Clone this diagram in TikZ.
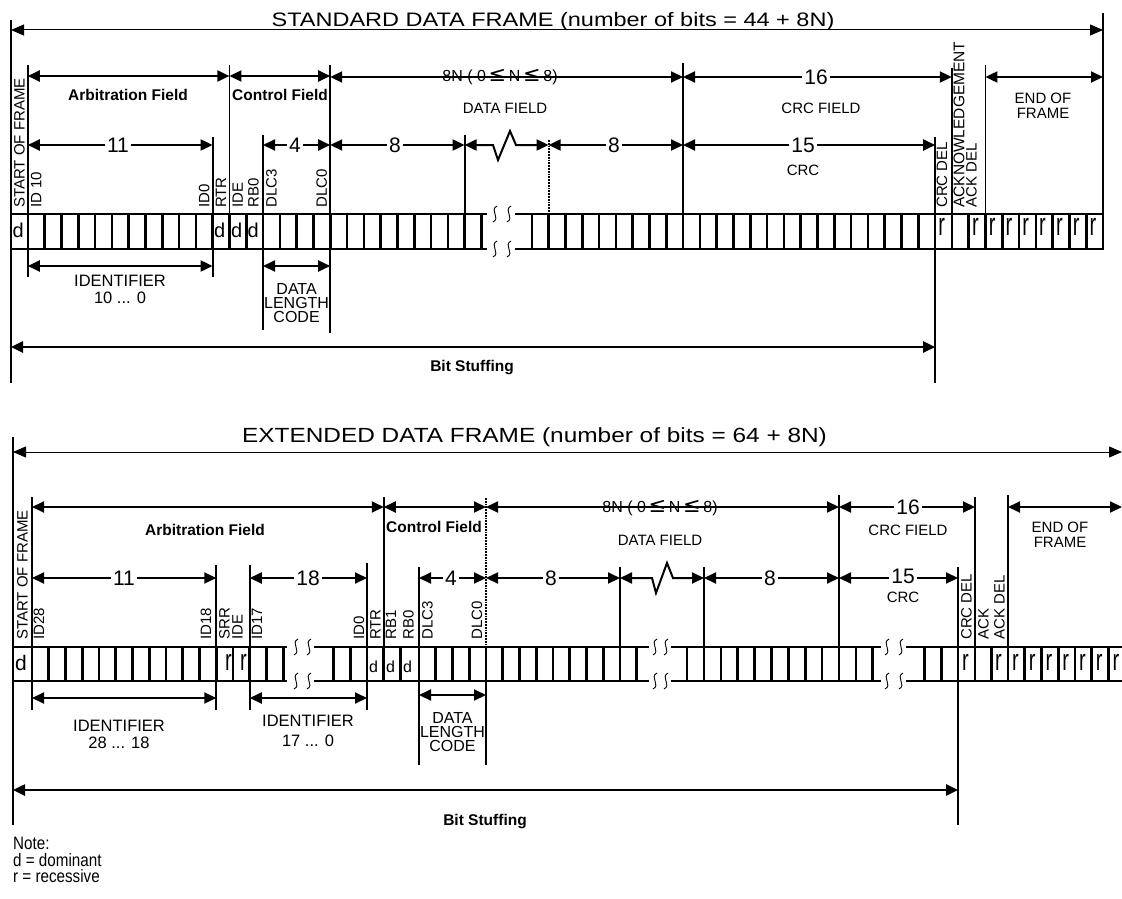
\documentclass[tikz,border=0pt]{standalone}
\usepackage{fontspec}
\usepackage{graphicx}
\setmainfont{Liberation Sans}
\newfontfamily\symfont{DejaVu Sans}
\usetikzlibrary{arrows.meta}
\tikzset{
  boxline/.style={line width=2.6pt, line cap=rect},
  guide/.style={line width=1.8pt},
  dim/.style={line width=2pt, {Triangle[length=12pt,width=11pt]}-{Triangle[length=12pt,width=11pt]}},
  framedim/.style={line width=1pt, {Triangle[length=13pt,width=11pt]}-{Triangle[length=13pt,width=11pt]}},
  vlab/.style={rotate=90, anchor=west, inner sep=0pt, font=\fontsize{15}{15}\selectfont},
  bitd/.style={anchor=base west, inner sep=0pt, font=\fontsize{20}{20}\selectfont},
  num/.style={fill=white, inner sep=2pt, font=\fontsize{21}{21}\selectfont},
  lab/.style={align=center, inner sep=0pt, font=\fontsize{15}{15}\selectfont},
  idlab/.style={align=center, inner sep=0pt, font=\fontsize{16.5}{16.5}\selectfont},
  dlclab/.style={align=center, inner sep=0pt, font=\fontsize{16}{14}\selectfont},
  blab/.style={inner sep=0pt, font=\bfseries\fontsize{15.5}{15.5}\selectfont},
  title/.style={anchor=base, inner sep=0pt, font=\fontsize{19.5}{19.5}\selectfont},
  squig/.style={line width=0.9pt},
}
\newcommand\sq[2]{\draw[squig] (#1+2,#2-8) .. controls (#1-6,#2-4) and (#1+6,#2+4) .. (#1-2,#2+8);}
\newcommand\leqs{{\symfont\fontsize{21}{21}\selectfont ≤}}
\begin{document}
\begin{tikzpicture}[x=1pt,y=-1pt]
\useasboundingbox (0,0) rectangle (1122,899);
\clip (0,0) rectangle (1122,899);

% ================= STANDARD DATA FRAME =================
\node[title] (t1) at (553,27) {\scalebox{1.205}[1]{STANDARD DATA FRAME (number of bits = 44 + 8N)}};
\coordinate (tL) at (11,30); \coordinate (tR) at (1103,30);
\draw[framedim] (tL) -- (tR);

% guide lines
\draw[guide] (11,20) -- (11,383);
\draw[guide] (1103,13) -- (1103,214);
\draw[guide] (27.8,65) -- (27.8,214) (27.8,249) -- (27.8,277);
\draw[guide] (229.4,65) -- (229.4,214);
\draw[guide] (330.2,65) -- (330.2,214) (330.2,249) -- (330.2,333);
\draw[guide] (263,135) -- (263,214) (263,249) -- (263,330);
\draw[guide] (212.6,137) -- (212.6,214) (212.6,249) -- (212.6,277);
\draw[guide] (464.6,135) -- (464.6,214);
\draw[guide, densely dotted] (548.6,140) -- (548.6,214);
\draw[guide] (683,63) -- (683,214);
\draw[guide] (935.2,137) -- (935.2,383);
\draw[guide] (951.8,68) -- (951.8,214);
\draw[guide] (985.4,65) -- (985.4,214);

% bit row
\draw[boxline] (11,214) -- (486,214) (516,214) -- (1103,214) (11,249) -- (486,249) (516,249) -- (1103,249);
\foreach \k in {0,...,28} \draw[boxline] ({11+16.8*\k},214) -- ({11+16.8*\k},249);
\foreach \k in {31,...,65} \draw[boxline] ({11+16.8*\k},214) -- ({11+16.8*\k},249);
\sq{495}{214} \sq{509}{214} \sq{495}{249} \sq{509}{249}

% dimension arrows, row 1
\draw[dim] (27.8,76) -- (229.4,76);
\draw[dim] (229.4,76) -- (330.2,76);
\draw[dim] (330.2,77) -- (683,77);
\draw[dim] (683,77) -- (951.8,77);
\draw[dim] (985.4,77) -- (1103,77);
\node[blab] (arb1) at (128,95) {Arbitration Field};
\node[blab] (ctl1) at (280,95) {Control Field};
\node[inner sep=0pt, font=\fontsize{16}{16}\selectfont] (n8n1) at (500,77) {8N ( 0\,\leqs\,N\,\leqs\,8)};
\node[lab] (df1) at (505,108) {DATA FIELD};
\node[num] (n16a) at (816,77) {16};
\node[lab] (crcf1) at (821,108) {CRC FIELD};
\node[lab] (eof1) at (1043,106) {END OF\\FRAME};

% dimension arrows, row 2
\draw[dim] (27.8,145) -- (212.6,145);
\draw[dim] (263,145) -- (330.2,145);
\draw[dim] (330.2,145) -- (464.6,145);
\draw[dim] (464.6,145) -- (493,145) -- (498,160) -- (510,131) -- (516,145) -- (548.6,145);
\draw[dim] (548.6,145) -- (683,145);
\draw[dim] (683,145) -- (935.2,145);
\node[num] (n11a) at (118,145) {11};
\node[num] (n4a) at (295,145) {4};
\node[num] (n8a) at (395,145) {8};
\node[num] (n8b) at (614,145) {8};
\node[num] (n15a) at (803,145) {15};
\node[lab] (crc1) at (803,170) {CRC};

% vertical labels
\node[vlab] (sof1) at (19.4,208) {START OF FRAME};
\node[vlab] (id10) at (36.2,208) {ID 10};
\node[vlab] (id0a) at (204.2,208) {ID0};
\node[vlab] (rtr1) at (221,208) {RTR};
\node[vlab] (ide1) at (237.8,208) {IDE};
\node[vlab] (rb0a) at (253.5,208) {RB0};
\node[vlab] (dlc3a) at (271.4,208) {DLC3};
\node[vlab] (dlc0a) at (321.8,208) {DLC0};
\node[vlab] (crcdela) at (942,208) {CRC DEL};
\node[vlab, font=\fontsize{15.5}{15.5}\selectfont] (ackna) at (959,208) {ACKNOWLEDGEMENT};
\node[vlab] (ackdela) at (971.5,208) {ACK DEL};

% bits
\node[bitd] (da1) at (12.5,237) {d};
\node[bitd] (da2) at (214,237) {d};
\node[bitd] (da3) at (231,237) {d};
\node[bitd] (da4) at (247.5,237) {d};
\node[bitd] (ra1) at (938.2,235) {\scalebox{1}[1.6]{r}};
\node[bitd] (ra2) at (971.8,235) {\scalebox{1}[1.6]{r}};
\foreach \j in {0,...,6} \node[bitd] (rae\j) at ({988.6+16.8*\j},235) {\scalebox{1}[1.6]{r}};

% below
\draw[dim] (27.8,266) -- (212.6,266);
\draw[dim] (263,266) -- (330.2,266);
\node[idlab] (ida) at (120,281) {IDENTIFIER};
\node[idlab] (idra) at (120,298) {10 ... 0};
\node[dlclab] (dlca) at (296.6,303) {DATA\\LENGTH\\CODE};
\draw[dim, line width=2.5pt] (11,347) -- (935.2,347);
\node[blab] (bs1) at (472,368) {Bit Stuffing};

% ================= EXTENDED DATA FRAME =================
\node[title, font=\fontsize{20.5}{20.5}\selectfont] (t2) at (534.5,442) {\scalebox{1.19}[1]{EXTENDED DATA FRAME (number of bits = 64 + 8N)}};
\draw[framedim] (13,452) -- (1122,452);

% guides
\draw[guide] (13,437) -- (13,825);
\draw[guide] (32,497) -- (32,710);
\draw[guide] (216.25,565) -- (216.25,710);
\draw[guide] (249.75,565) -- (249.75,710);
\draw[guide] (367,563) -- (367,710);
\draw[guide] (383.75,497) -- (383.75,647);
\draw[guide] (419,567) -- (419,765);
\draw[guide, densely dotted] (486,498) -- (486,647);
\draw[guide] (486,681) -- (486,765);
\draw[guide] (620,567) -- (620,647);
\draw[guide] (704,567) -- (704,647);
\draw[guide] (839,495) -- (839,647);
\draw[guide] (958,567) -- (958,825);
\draw[guide] (975,497) -- (975,647);
\draw[guide] (1008,495) -- (1008,647);

% bit row
\draw[boxline] (13,647) -- (286,647) (315,647) -- (648,647) (672,647) -- (880,647) (907,647) -- (1126,647);
\draw[boxline] (13,681) -- (286,681) (315,681) -- (648,681) (672,681) -- (880,681) (907,681) -- (1126,681);
\foreach \x in {13,32,48.75,65.5,82.25,99,115.75,132.5,149.25,166,182.75,199.5,216.25,233,249.75,266.5,283.25,
  333.5,350.25,367,383.75,400.5,419,435.75,452.5,469.25,486,502.75,519.5,536.25,553,569.75,586.5,603.25,620,636.75,
  687.1,704,720.9,737.75,754.6,771.5,788.4,805.25,822.1,839,855.9,872.75,
  924.5,941.25,958,975,991.5,1008,1024.75,1041.5,1058.25,1075,1091.75,1108.5}
  \draw[boxline] (\x,647) -- (\x,681);
\sq{296}{647} \sq{309}{647} \sq{296}{681} \sq{309}{681}
\sq{655}{647} \sq{666}{647} \sq{655}{681} \sq{666}{681}
\sq{887}{647} \sq{901}{647} \sq{887}{681} \sq{901}{681}

% dimension arrows row 1
\draw[dim] (32,507) -- (383.75,507);
\draw[dim] (383.75,507) -- (486,507);
\draw[dim] (486,507) -- (839,507);
\draw[dim] (839,507) -- (975,507);
\draw[dim] (1008,507) -- (1122,507);
\node[blab] (arb2) at (205,530) {Arbitration Field};
\node[blab] (ctl2) at (434,527) {Control Field};
\node[inner sep=0pt, font=\fontsize{16}{16}\selectfont] (n8n2) at (660,508) {8N ( 0\,\leqs\,N\,\leqs\,8)};
\node[lab] (df2) at (660,540) {DATA FIELD};
\node[num] (n16b) at (908,507) {16};
\node[lab] (crcf2) at (908,530) {CRC FIELD};
\node[lab] (eof2) at (1060,535) {END OF\\FRAME};

% dimension arrows row 2
\draw[dim] (32,578) -- (216.25,578);
\draw[dim] (249.75,578) -- (367,578);
\draw[dim] (419,578) -- (486,578);
\draw[dim] (486,578) -- (620,578);
\draw[dim] (620,578) -- (652,578) -- (656,593) -- (667,563) -- (673,578) -- (704,578);
\draw[dim] (704,578) -- (839,578);
\draw[dim] (839,578) -- (958,578);
\node[num] (n11b) at (124,578) {11};
\node[num] (n18b) at (308,578) {18};
\node[num] (n4b) at (451,578) {4};
\node[num] (n8c) at (551,578) {8};
\node[num] (n8d) at (770,578) {8};
\node[num] (n15b) at (903,576) {15};
\node[lab] (crc2) at (903,597) {CRC};

% vertical labels
\node[vlab] (sof2) at (22.5,640) {START OF FRAME};
\node[vlab] (id28) at (39,640) {ID28};
\node[vlab] (id18) at (206,640) {ID18};
\node[vlab] (srr2) at (224.5,640) {SRR};
\node[vlab] (ide2) at (237.5,640) {IDE};
\node[vlab] (id17) at (257,640) {ID17};
\node[vlab] (id0b) at (359,640) {ID0};
\node[vlab] (rtr2) at (375.4,640) {RTR};
\node[vlab] (rb1b) at (391,640) {RB1};
\node[vlab] (rb0b) at (408.5,640) {RB0};
\node[vlab] (dlc3b) at (427.5,640) {DLC3};
\node[vlab] (dlc0b) at (477,640) {DLC0};
\node[vlab] (crcdelb) at (966.5,640) {CRC DEL};
\node[vlab] (ackb) at (983.5,640) {ACK};
\node[vlab] (ackdelb) at (999.5,640) {ACK DEL};

% bits
\node[bitd, font=\fontsize{21}{21}\selectfont] (db1) at (15,670) {d};
\node[bitd, font=\fontsize{16}{16}\selectfont] (db2) at (369,672) {d};
\node[bitd, font=\fontsize{16}{16}\selectfont] (db3) at (386,672) {d};
\node[bitd, font=\fontsize{16}{16}\selectfont] (db4) at (403,672) {d};
\node[bitd] (rb1) at (225,670) {\scalebox{1}[1.5]{r}};
\node[bitd] (rb2) at (240,670) {\scalebox{1}[1.5]{r}};
\node[bitd] (rb3) at (962,670) {\scalebox{1}[1.5]{r}};
\node[bitd] (rb4) at (995,670) {\scalebox{1}[1.5]{r}};
\foreach \j in {0,...,6} \node[bitd] (rbe\j) at ({1012+16.75*\j},670) {\scalebox{1}[1.5]{r}};

% below
\draw[dim] (32,698) -- (216.25,698);
\draw[dim] (249.75,698) -- (367,698);
\draw[dim] (419,695) -- (486,695);
\node[idlab] (idb1) at (119,726) {IDENTIFIER};
\node[idlab] (idrb1) at (119,743) {28 ... 18};
\node[idlab] (idb2) at (308,721) {IDENTIFIER};
\node[idlab] (idrb2) at (308,741) {17 ... 0};
\node[dlclab] (dlcb) at (452.5,732) {DATA\\LENGTH\\CODE};
\draw[dim, line width=2.5pt] (13,790) -- (958,790);
\node[blab] (bs2) at (485,822) {Bit Stuffing};

% note
\node[anchor=north west, align=left, inner sep=0pt, font=\fontsize{16}{16.5}\selectfont] (note) at (13,837) {\scalebox{0.95}[1.12]{Note:}\\\scalebox{0.95}[1.12]{d = dominant}\\\scalebox{0.95}[1.12]{r = recessive}};
\end{tikzpicture}
\end{document}
